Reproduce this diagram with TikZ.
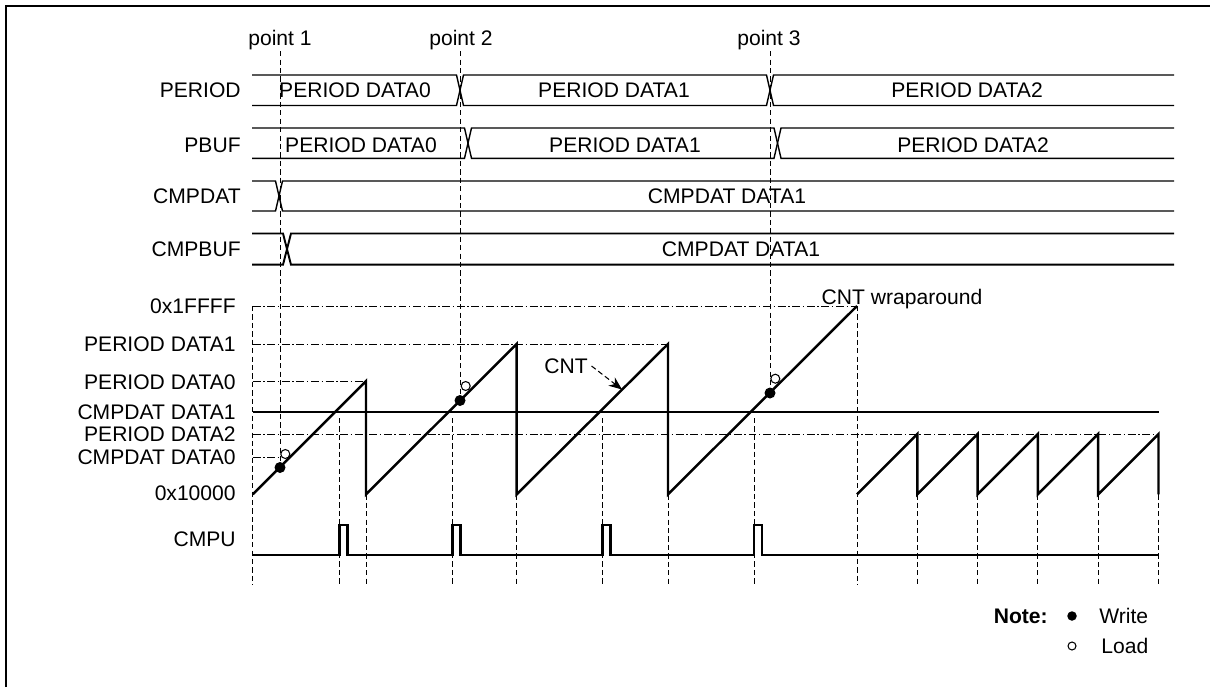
\documentclass[tikz,border=0pt]{standalone}
\usepackage{fontspec}
\setmainfont{Liberation Sans}
\usetikzlibrary{arrows.meta}

\begin{document}
\begin{tikzpicture}[x=0.02cm,y=-0.02cm,
	bus/.style={line width=0.8pt},
	thickbus/.style={line width=1.1pt},
	cnt/.style={line width=1.4pt},
	guide/.style={line width=0.5pt,dash pattern=on 3pt off 1.8pt},
	level/.style={line width=0.5pt,dash pattern=on 4.5pt off 1.5pt on 0.8pt off 1.5pt},
	txt/.style={inner sep=0pt,text height=8.6pt,text depth=0pt,font=\fontsize{12}{14}\selectfont},
	lbl/.style={txt,anchor=east},
	wdot/.style={circle,fill,inner sep=0pt,minimum size=0.22cm},
	ldot/.style={circle,draw,line width=0.6pt,inner sep=0pt,minimum size=0.18cm}]
	\useasboundingbox (0,0) rectangle (1210,687);
	% frame
	\draw[line width=1.5pt] (6,687) -- (6,6) -- (1210,6);
	% signal names
	\node[lbl] (nperiod) at (241,90) {PERIOD};
	\node[lbl] (npbuf) at (241,145) {PBUF};
	\node[lbl] (ncmpdat) at (241,196) {CMPDAT};
	\node[lbl] (ncmpbuf) at (241,249) {CMPBUF};
	% points
	\node[txt] (p1) at (280,38) {point 1};
	\node[txt] (p2) at (461,38) {point 2};
	\node[txt] (p3) at (769,38) {point 3};
	% PERIOD bus
	\draw[bus] (252,75) -- (456.5,75) -- (463.5,105.5) -- (766.5,105.5) -- (773.5,75) -- (1174,75);
	\draw[bus] (252,105.5) -- (456.5,105.5) -- (463.5,75) -- (766.5,75) -- (773.5,105.5) -- (1174,105.5);
	\node[txt] (perd0) at (355,90) {PERIOD DATA0};
	\node[txt] (perd1) at (614,90) {PERIOD DATA1};
	\node[txt] (perd2) at (967,90) {PERIOD DATA2};
	% PBUF bus
	\draw[bus] (252,128) -- (464.5,128) -- (471.5,158.3) -- (774,158.3) -- (781,128) -- (1174,128);
	\draw[bus] (252,158.3) -- (464.5,158.3) -- (471.5,128) -- (774,128) -- (781,158.3) -- (1174,158.3);
	\node[txt] (pbufd0) at (361,145) {PERIOD DATA0};
	\node[txt] (pbufd1) at (625,145) {PERIOD DATA1};
	\node[txt] (pbufd2) at (973,145) {PERIOD DATA2};
	% CMPDAT bus
	\draw[bus] (252,181) -- (275.5,181) -- (282.5,211) -- (1174,211);
	\draw[bus] (252,211) -- (275.5,211) -- (282.5,181) -- (1174,181);
	\node[txt] (cmpd1) at (727,196) {CMPDAT DATA1};
	% CMPBUF bus
	\draw[thickbus] (252,233.5) -- (283,233.5) -- (291,264.7) -- (1174,264.7);
	\draw[thickbus] (252,264.7) -- (283,264.7) -- (291,233.5) -- (1174,233.5);
	\node[txt] (cmpb1) at (741,249) {CMPDAT DATA1};
	% counter levels
	\node[lbl] (vmax) at (236,306) {0x1FFFF};
	\node[lbl] (vper1) at (236,344) {PERIOD DATA1};
	\node[lbl] (vper0) at (236,382) {PERIOD DATA0};
	\node[lbl] (vcmp1) at (236,411.7) {CMPDAT DATA1};
	\node[lbl] (vper2) at (236,434) {PERIOD DATA2};
	\node[lbl] (vcmp0) at (236,457) {CMPDAT DATA0};
	\node[lbl] (vmin) at (236,493) {0x10000};
	\node[lbl] (ncmpu) at (236,539) {CMPU};
	\draw[level] (252.7,306) -- (857,306);
	\draw[level] (252.7,344) -- (668,344);
	\draw[level] (252.7,381.5) -- (366,381.5);
	\draw[level] (252.7,434) -- (1159,434);
	\draw[level] (252.7,457) -- (278,457);
	\draw[line width=1pt] (252.7,411.7) -- (1159,411.7);
	% guides
	\draw[guide] (252.7,306) -- (252.7,585);
	\draw[guide] (857,306) -- (857,585);
	\foreach \x in {339.3,452.7,602.7,754}
		\draw[guide] (\x,418) -- (\x,585);
	\foreach \x in {366,516.7,668}
		\draw[guide] (\x,494.3) -- (\x,585);
	\foreach \i in {1,...,5}
		\draw[guide] ({857+60.3*\i},494.3) -- ({857+60.3*\i},585);
	% CNT
	\draw[cnt] (252.7,494.3) -- (366,381) -- (366,494.3) -- (516.7,344) -- (516.7,494.3)
		-- (668,344) -- (668,494.3) -- (857,306);
	\draw[cnt] (857,494.3) \foreach \i in {1,...,5}{ -- ({857+60.3*\i},434) -- ({857+60.3*\i},494.3)};
	\node[txt] (cntwrap) at (902,296.5) {CNT wraparound};
	\node[txt] (cntlbl) at (566,366) {CNT};
	\coordinate (cnthit) at (622,389.5);
	\draw[guide,line width=0.6pt,-{Stealth[length=7.5pt,width=6pt]}] ([xshift=2pt]cntlbl.east) -- (cnthit);
	% CMPU
	\draw[cnt] (252.7,555) \foreach \p in {339.3,452.7,602.7,754}{ -- (\p,555) -- (\p,525) -- ({\p+8},525) -- ({\p+8},555)} -- (1159,555);
	% write / load marks
	\node[wdot] (w1) at (280,467.5) {};
	\node[wdot] (w2) at (460,400.5) {};
	\node[wdot] (w3) at (770,393) {};
	\node[ldot] (l1) at (285.3,454) {};
	\node[ldot] (l2) at (465.7,386) {};
	\node[ldot] (l3) at (775.3,378.7) {};
	\draw[guide] ([yshift=-3pt]p1.south) -- (w1);
	\draw[guide] ([yshift=-3pt]p2.south -| w2) -- (w2);
	\draw[guide] ([yshift=-3pt]p3.south -| w3) -- (w3);
	% note
	\node[lbl,font=\fontsize{12}{14}\selectfont\bfseries] (note) at (1048,616) {Note:};
	\node[wdot,minimum size=0.19cm] (kw) at (1072,616) {};
	\node[txt,anchor=west] (kwrite) at (1099,616) {Write};
	\node[ldot,minimum size=0.16cm] (kl) at (1072,646) {};
	\node[txt,anchor=west] (kload) at (1101,646) {Load};
\end{tikzpicture}
\end{document}
